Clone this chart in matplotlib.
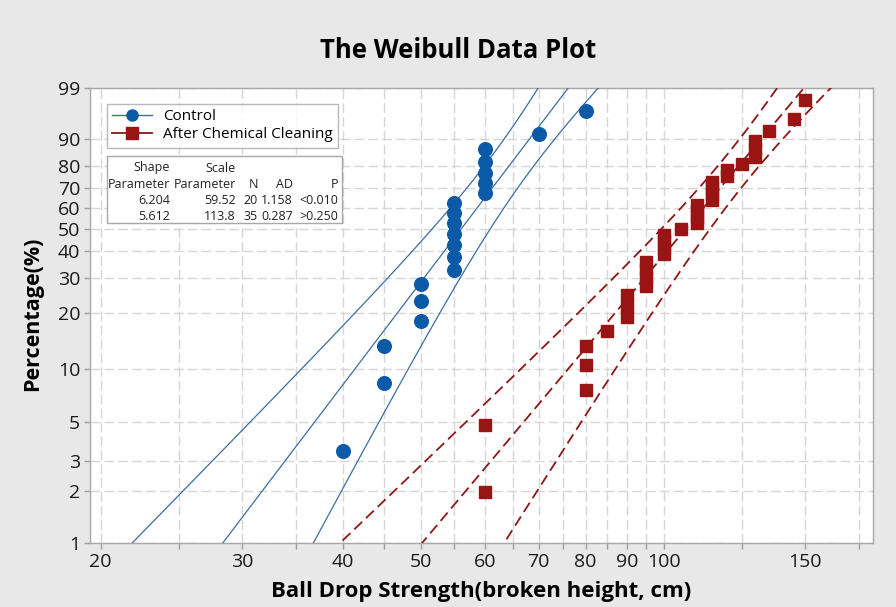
import numpy as np
import matplotlib
matplotlib.use("Agg")
import matplotlib.pyplot as plt
from matplotlib.lines import Line2D
from matplotlib.patches import Rectangle

# ---------------- data ----------------
control_strength = [40, 45, 45, 50, 50, 50, 55, 55, 55, 55, 55, 55, 55,
                    60, 60, 60, 60, 60, 70, 80]
cleaned_strength = [60, 60, 80, 80, 80, 85, 90, 90, 90, 95, 95, 95, 95,
                    100, 100, 100, 100, 105, 110, 110, 110, 110,
                    115, 115, 115, 115, 120, 120, 125, 130, 130, 130,
                    135, 145, 150]
series_names = ["Control", "After Chemical Cleaning"]
shape_params = [6.204, 5.612]
scale_params = [59.52, 113.8]
n_values = [20, 35]
ad_values = [1.158, 0.287]
p_values = ["<0.010", ">0.250"]

x_major = [20, 30, 40, 50, 60, 70, 80, 90, 100, 150]
x_minor = [25, 35, 45, 55, 65, 75, 85, 95, 125, 175]
y_ticks = [1, 2, 3, 5, 10, 20, 30, 40, 50, 60, 70, 80, 90, 99]

# ---------------- helpers ----------------
def fwd(p):
    p = np.asarray(p, float)
    with np.errstate(all="ignore"):
        return np.log(-np.log(1 - p / 100.0))

def inv(w):
    w = np.asarray(w, float)
    return 100.0 * (1 - np.exp(-np.exp(w)))

def median_ranks(n):
    i = np.arange(1, n + 1)
    return (i - 0.3) / (n + 0.4) * 100

def fit_and_bands(data, shape, scale, pct):
    y = np.log(np.asarray(data, float))
    u = np.log(scale)
    b = 1.0 / shape
    z = (y - u) / b
    ez = np.exp(z)
    Iuu = ez.sum() / b**2
    Iub = (ez + z * ez - 1).sum() / b**2
    Ibb = (-1 - 2 * z + 2 * z * ez + z**2 * ez).sum() / b**2
    cov = np.linalg.inv(np.array([[Iuu, Iub], [Iub, Ibb]]))
    w = np.log(-np.log(1 - pct / 100.0))
    yp = u + b * w
    se = np.sqrt(cov[0, 0] + w**2 * cov[1, 1] + 2 * w * cov[0, 1])
    return np.exp(yp), np.exp(yp - 1.96 * se), np.exp(yp + 1.96 * se)

# ---------------- figure ----------------
W, H = 896, 607
fig = plt.figure(figsize=(W / 100, H / 100), dpi=100, facecolor="#e8e8e8")
L, R, T, B = 90, 873, 88, 543
ax = fig.add_axes([L / W, 1 - B / H, (R - L) / W, (B - T) / H])
ax.set_facecolor("white")
ax.set_xscale("log")
ax.set_yscale("function", functions=(fwd, inv))
ax.set_xlim(19.4, 182)
ax.set_ylim(1, 99)

FONT = ["Open Sans", "Noto Sans", "DejaVu Sans"]
BFONT = ["Open Sans", "DejaVu Sans"]

ax.set_xticks(x_major)
ax.set_xticklabels([str(v) for v in x_major])
ax.set_xticks(x_minor, minor=True)
ax.set_xticklabels([], minor=True)
ax.set_yticks(y_ticks)
ax.set_yticklabels([str(v) for v in y_ticks])
ax.yaxis.set_minor_locator(matplotlib.ticker.NullLocator())
for lab in ax.get_xticklabels() + ax.get_yticklabels():
    lab.set_fontfamily(FONT)
    lab.set_fontsize(14)
    lab.set_color("#1a1a1a")
ax.tick_params(axis="both", which="both", direction="out", length=4,
               color="#a0a0a0", width=1, pad=3)

grid_kw = dict(color="#d6d6d6", linestyle=(0, (7, 3)), linewidth=1.0)
ax.grid(True, which="both", axis="x", **grid_kw)
ax.grid(True, which="major", axis="y", **grid_kw)
ax.set_axisbelow(True)
for s in ax.spines.values():
    s.set_color("#a8a8a8")
    s.set_linewidth(1)

pct = np.concatenate([np.linspace(0.3, 1, 10), np.linspace(1, 99, 400),
                      np.linspace(99, 99.7, 10)])

blue_line = "#3d6da3"
blue_mark = "#0b5aa8"
red_line = "#8e1616"
red_mark = "#9b1414"

# Control
fit, lo, hi = fit_and_bands(control_strength, shape_params[0], scale_params[0], pct)
for xs in (fit, lo, hi):
    ax.plot(xs, pct, color=blue_line, lw=0.9, zorder=3)
ax.plot(control_strength, median_ranks(len(control_strength)), "o",
        color=blue_mark, ms=9.8, mec=blue_mark, zorder=5)

# After chemical cleaning
fit, lo, hi = fit_and_bands(cleaned_strength, shape_params[1], scale_params[1], pct)
for xs in (fit, lo, hi):
    ax.plot(xs, pct, color=red_line, lw=1.3, linestyle=(0, (6, 3)), zorder=3)
ax.plot(cleaned_strength, median_ranks(len(cleaned_strength)), "s",
        color=red_mark, ms=8.9, mec=red_mark, zorder=5)

# ---------------- legend ----------------
def axpt(px, py):
    return (px - L) / (R - L), (B - py) / (B - T)

handles = [Line2D([], [], color=blue_line, lw=1, marker="o", ms=8,
                  mfc=blue_mark, mec=blue_mark),
           Line2D([], [], color=red_line, lw=1.3, marker="s", ms=8,
                  mfc=red_mark, mec=red_mark)]
lx, ly = axpt(107, 104)
leg = ax.legend(handles, series_names, loc="upper left", bbox_to_anchor=(lx, ly),
                borderaxespad=0, frameon=True, fancybox=False,
                prop={"family": FONT, "size": 11}, handlelength=2.6,
                handletextpad=0.7, borderpad=0.35, labelspacing=0.2)
leg.get_frame().set_edgecolor("#a8a8a8")
leg.get_frame().set_linewidth(1)
leg.set_zorder(10)

# ---------------- parameter table ----------------
x0, y0 = axpt(107, 223)
x1, y1 = axpt(342, 156)
ax.add_patch(Rectangle((x0, y0), x1 - x0, y1 - y0, transform=ax.transAxes,
                       facecolor="white", edgecolor="#a8a8a8", lw=1, zorder=9))
TFONT = ["Liberation Sans Narrow", "Open Sans", "DejaVu Sans"]
col_right = [170, 236, 258, 293, 338]
rows_y = [168, 184, 200, 216]
header1 = ["Shape", "Scale", "", "", ""]
header2 = ["Parameter", "Parameter", "N", "AD", "P"]
row1 = [f"{shape_params[0]:.3f}", f"{scale_params[0]:.2f}", str(n_values[0]),
        f"{ad_values[0]:.3f}", p_values[0]]
row2 = [f"{shape_params[1]:.3f}", f"{scale_params[1]:.1f}", str(n_values[1]),
        f"{ad_values[1]:.3f}", p_values[1]]
for ry, row in zip(rows_y, [header1, header2, row1, row2]):
    for cx, txt in zip(col_right, row):
        if txt:
            tx, ty = axpt(cx, ry)
            ax.text(tx, ty, txt, transform=ax.transAxes, ha="right", va="center",
                    fontsize=9, family=TFONT, color="#222222", zorder=11)

# ---------------- titles ----------------
fig.text(458 / W, 1 - 50 / H, "The Weibull Data Plot", ha="center", va="center",
         fontsize=18.5, fontweight="bold", family=BFONT)
fig.text((L + R) / 2 / W, 1 - 592 / H, "Ball Drop Strength(broken height, cm)",
         ha="center", va="center", fontsize=16, fontweight="bold", family=BFONT)
fig.text(33 / W, 1 - 314 / H, "Percentage(%)", ha="center", va="center",
         rotation=90, fontsize=15.5, fontweight="bold", family=BFONT)

fig.savefig("out.png", dpi=100, facecolor=fig.get_facecolor())
